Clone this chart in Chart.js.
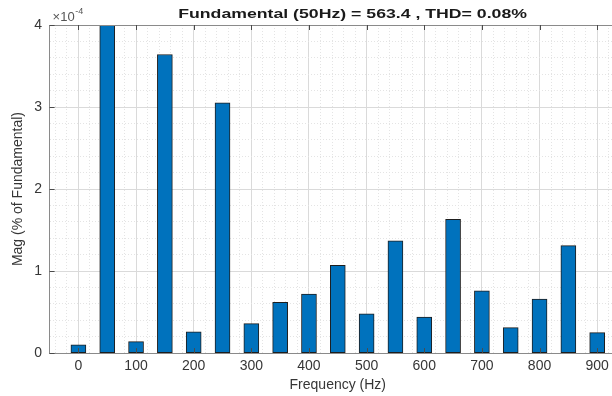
<!DOCTYPE html>
<html>
<head>
<meta charset="utf-8">
<title>Harmonic spectrum</title>
<script src="https://cdn.jsdelivr.net/npm/chart.js"></script>
<style>
  html, body { margin: 0; padding: 0; background: #ffffff; overflow: hidden; }
  #wrap { width: 640px; height: 396px; }
</style>
</head>
<body>
<div id="wrap"><canvas id="fftChart" width="640" height="396"></canvas></div>
<script>
// FFT harmonic bars, magnitude in units of 1e-4 (% of fundamental)
const freqHz = [0, 50, 100, 150, 200, 250, 300, 350, 400, 450, 500, 550, 600, 650, 700, 750, 800, 850, 900];
const magE4  = [0.10, 100, 0.14, 3.64, 0.26, 3.05, 0.36, 0.62, 0.72, 1.07, 0.48, 1.37, 0.44, 1.63, 0.76, 0.31, 0.66, 1.31, 0.25];

const xLimits = [-50, 950];
const yLimits = [0, 4];
const xMajorStep = 100, xMinorStep = 20;
const yMajorStep = 1, yMinorStep = 0.2;

const titleText = "Fundamental (50Hz) = 563.4 , THD= 0.08%";
const xLabel = "Frequency (Hz)";
const yLabel = "Mag (% of Fundamental)";
const expBase = "\u00d710", expPower = "-4";

const FONT = "'Liberation Sans', Arial, Helvetica, sans-serif";
const BAR_FILL = "#0072bd";
const BAR_EDGE = "#1e1e1e";
const AXIS_GRAY = "#8a8a8a";
const TEXT_GRAY = "#363636";

// grid positions every minor step inside the x limits
const xGridTicks = [];
for (let v = -40; v < xLimits[1]; v += xMinorStep) xGridTicks.push(v);

function isMajor(v, step) {
    const r = v / step;
    return Math.abs(r - Math.round(r)) < 1e-6;
}

function gridColor(step) {
    return ctx => (ctx.tick && isMajor(ctx.tick.value, step)) ? "#dadada" : "#e4e4e4";
}
function gridDash(step) {
    return ctx => (!ctx.tick || isMajor(ctx.tick.value, step)) ? [] : [1, 2];
}

// MATLAB-style box: top edge, inward ticks, title and axis exponent
const matlabAxes = {
    id: "matlabAxes",
    afterDatasetsDraw(chart) {
        const { ctx, chartArea: a, scales } = chart;
        ctx.save();
        ctx.strokeStyle = AXIS_GRAY;
        ctx.lineWidth = 1;
        ctx.beginPath();
        ctx.moveTo(a.left, a.top + 0.5);
        ctx.lineTo(a.right, a.top + 0.5);
        ctx.stroke();

        ctx.strokeStyle = "#4a4a4a";
        ctx.beginPath();
        scales.x.ticks.forEach(t => {
            if (!isMajor(t.value, xMajorStep)) return;
            const px = Math.round(scales.x.getPixelForValue(t.value)) + 0.5;
            ctx.moveTo(px, a.bottom);
            ctx.lineTo(px, a.bottom - 5);
            ctx.moveTo(px, a.top);
            ctx.lineTo(px, a.top + 5);
        });
        scales.y.ticks.forEach(t => {
            if (!isMajor(t.value, yMajorStep)) return;
            const py = Math.round(scales.y.getPixelForValue(t.value)) + 0.5;
            ctx.moveTo(a.left, py);
            ctx.lineTo(a.left + 5, py);
        });
        ctx.stroke();
        ctx.restore();
    },
    afterDraw(chart) {
        const { ctx, chartArea: a } = chart;
        ctx.save();
        // title is set wide, as in the exported figure
        ctx.fillStyle = "#1a1a1a";
        ctx.font = "bold 13px " + FONT;
        ctx.textAlign = "center";
        ctx.textBaseline = "alphabetic";
        ctx.translate(a.left + 303, 18);
        ctx.scale(1.36, 1);
        ctx.fillText(titleText, 0, 0);
        ctx.restore();

        ctx.save();
        ctx.fillStyle = "#555555";
        ctx.textAlign = "left";
        ctx.textBaseline = "alphabetic";
        ctx.font = "13px " + FONT;
        ctx.fillText(expBase, a.left + 3, 21);
        const w = ctx.measureText(expBase).width;
        ctx.font = "9px " + FONT;
        ctx.fillText(expPower, a.left + 3 + w + 0.5, 14);
        ctx.restore();
    }
};

new Chart(document.getElementById("fftChart"), {
    type: "bar",
    data: {
        datasets: [{
            label: "Harmonics",
            data: freqHz.map((f, i) => ({ x: f, y: magE4[i] })),
            backgroundColor: BAR_FILL,
            borderColor: BAR_EDGE,
            borderWidth: 1,
            borderSkipped: false,
            barThickness: 15
        }]
    },
    options: {
        responsive: false,
        animation: false,
        layout: { padding: { left: 8, right: 14, top: 25, bottom: 0 } },
        plugins: {
            legend: { display: false },
            tooltip: { enabled: false },
            title: { display: false }
        },
        scales: {
            x: {
                type: "linear",
                min: xLimits[0],
                max: xLimits[1],
                offset: false,
                afterBuildTicks: scale => {
                    scale.ticks = xGridTicks.map(v => ({ value: v }));
                },
                grid: {
                    offset: false,
                    drawTicks: false,
                    color: gridColor(xMajorStep),
                    lineWidth: 1
                },
                border: { display: true, color: AXIS_GRAY, width: 1, dash: gridDash(xMajorStep) },
                ticks: {
                    autoSkip: false,
                    maxRotation: 0,
                    padding: 6,
                    color: TEXT_GRAY,
                    font: { family: FONT, size: 14, lineHeight: 1.0 },
                    callback: v => isMajor(v, xMajorStep) ? String(v) : ""
                },
                title: {
                    display: true,
                    text: xLabel,
                    color: TEXT_GRAY,
                    font: { family: FONT, size: 14, lineHeight: 0.85 },
                    padding: { top: 0, bottom: 5 }
                }
            },
            y: {
                min: yLimits[0],
                max: yLimits[1],
                grid: {
                    drawTicks: false,
                    color: gridColor(yMajorStep),
                    lineWidth: 1
                },
                border: { display: true, color: AXIS_GRAY, width: 1, dash: gridDash(yMajorStep) },
                ticks: {
                    stepSize: yMinorStep,
                    autoSkip: false,
                    padding: 7.5,
                    color: TEXT_GRAY,
                    font: { family: FONT, size: 14 },
                    callback: v => isMajor(v, yMajorStep) ? String(Math.round(v)) : ""
                },
                title: {
                    display: true,
                    text: yLabel,
                    color: TEXT_GRAY,
                    font: { family: FONT, size: 14 },
                    padding: { top: 2, bottom: 0 }
                }
            }
        }
    },
    plugins: [matlabAxes]
});
</script>
</body>
</html>
